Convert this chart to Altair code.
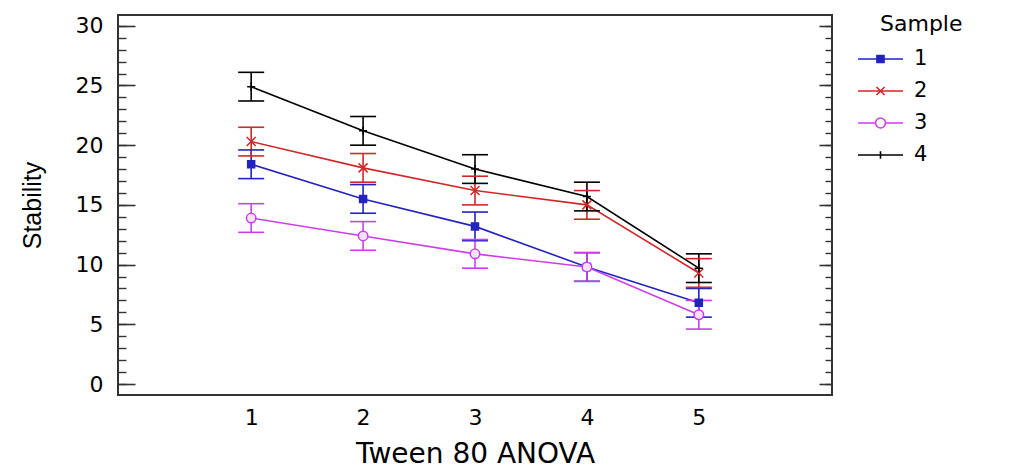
import altair as alt
import pandas as pd

# ---- data ----
levels = [1, 2, 3, 4, 5]
samples = ["1", "2", "3", "4"]
sample1 = [18.4, 15.5, 13.2, 9.8, 6.8]
sample2 = [20.3, 18.1, 16.2, 15.0, 9.3]
sample3 = [13.9, 12.4, 10.9, 9.8, 5.8]
sample4 = [24.9, 21.2, 18.0, 15.7, 9.7]
half_width = [1.2, 1.2, 1.2, 1.2]
y_major = [0, 5, 10, 15, 20, 25, 30]
y_minor = list(range(0, 31))
x_ticks = [1, 2, 3, 4, 5]

colors = ["#2323c0", "#d02828", "#cc3fe8", "#000000"]

series = [sample1, sample2, sample3, sample4]
rows = []
for s, vals, hw in zip(samples, series, half_width):
    for lv, v in zip(levels, vals):
        rows.append({"Sample": s, "Level": lv, "Mean": v, "Lo": v - hw, "Hi": v + hw})
df = pd.DataFrame(rows)

xs = alt.Scale(domain=[-0.19, 6.19], nice=False, zero=False)
ys = alt.Scale(domain=[-0.92, 30.9], nice=False, zero=False)

stroke_enc = alt.Stroke("Sample:N", scale=alt.Scale(domain=samples, range=colors), title="Sample")

TICK = "#333333"
x_axis = alt.Axis(values=x_ticks, ticks=False, domain=False, grid=False, labelPadding=12,
                  labelFont="DejaVu Sans", labelFontSize=22, labelColor="black",
                  title="Tween 80 ANOVA", titleFont="DejaVu Sans", titleFontSize=28,
                  titleFontWeight="normal", titleColor="black", titlePadding=12)
y_major_left = alt.Axis(values=y_major, orient="left", offset=-17, tickSize=17, tickWidth=1.6,
                        tickColor=TICK, domain=False, grid=False, labelPadding=15,
                        labelFont="DejaVu Sans", labelFontSize=22, labelColor="black",
                        title="Stability", titleFont="Liberation Sans",
                        titleFontSize=25, titleFontWeight="normal", titleColor="black",
                        titlePadding=30)
y_minor_left = alt.Axis(values=y_minor, orient="left", offset=-8, tickSize=8, tickWidth=1.4,
                        tickColor=TICK, domain=False, grid=False, labels=False, title=None)
y_major_right = alt.Axis(values=y_major, orient="right", offset=-13, tickSize=13, tickWidth=1.6,
                         tickColor=TICK, domain=False, grid=False, labels=False, title=None)
y_minor_right = alt.Axis(values=y_minor, orient="right", offset=-7, tickSize=7, tickWidth=1.4,
                         tickColor=TICK, domain=False, grid=False, labels=False, title=None)

base = alt.Chart(df)

def xenc(axis=None):
    return alt.X("Level:Q", scale=xs, axis=axis)

lines = base.mark_line(strokeWidth=1.6).encode(
    x=xenc(x_axis),
    y=alt.Y("Mean:Q", scale=ys, axis=y_major_left),
    stroke=stroke_enc,
)

err = base.mark_rule(strokeWidth=1.6).encode(
    x=xenc(),
    y=alt.Y("Lo:Q", scale=ys, axis=y_minor_left),
    y2="Hi:Q",
    stroke=stroke_enc,
)

caps = base.transform_fold(["Lo", "Hi"], as_=["end", "val"]).mark_point(
    shape="M-1,0H1", size=676, strokeWidth=1.6, opacity=1, filled=False
).encode(
    x=xenc(),
    y=alt.Y("val:Q", scale=ys, axis=y_major_right),
    stroke=stroke_enc,
)

marker_shapes = ["square", "M-1,-1L1,1M-1,1L1,-1", "circle", "M-1,0H1M0,-1V1"]
marker_sizes = [49, 81, 90, 64]
marker_fills = [colors[0], "transparent", "#f6e2fb", "transparent"]

point_layers = []
for i, s in enumerate(samples):
    yax = y_minor_right if i == 0 else None
    p = base.transform_filter(alt.datum.Sample == s).mark_point(
        shape=marker_shapes[i], size=marker_sizes[i], stroke=colors[i], fill=marker_fills[i],
        strokeWidth=1.5, opacity=1, filled=False,
    ).encode(
        x=xenc(),
        y=alt.Y("Mean:Q", scale=ys, axis=yax),
    )
    point_layers.append(p)

# legend symbols: line segment with the marker in its middle (unit path coordinates)
legend_paths = [
    "M-2.533,0H0.467M-1.27,-0.23H-0.8V0.23H-1.27Z",
    "M-2.533,0H0.467M-1.3,-0.27L-0.76,0.27M-1.3,0.27L-0.76,-0.27",
    "M-2.533,0H-1.363M-0.703,0H0.467M-1.363,0A0.33,0.33,0,1,0,-0.703,0A0.33,0.33,0,1,0,-1.363,0",
    "M-2.533,0H0.467M-1.033,-0.25V0.25",
]
legend_fills = [colors[0], colors[1], "#ffffff", colors[3]]

legend_layer = base.transform_filter("datum.Sample == 'none'").mark_point(
    opacity=1, strokeWidth=1.6
).encode(
    x=xenc(),
    y=alt.Y("Mean:Q", scale=ys, axis=None),
    stroke=stroke_enc,
    shape=alt.Shape("Sample:N", scale=alt.Scale(domain=samples, range=legend_paths), title="Sample"),
    fill=alt.Fill("Sample:N", scale=alt.Scale(domain=samples, range=legend_fills), title="Sample"),
)

chart = alt.layer(lines, err, caps, *point_layers, legend_layer).resolve_axis(
    y="independent", x="independent"
).properties(
    width=714, height=380,
    padding={"left": 118, "top": 15, "right": 186, "bottom": 78},
    autosize=alt.AutoSizeParams(type="none"),
    background="white",
).configure_view(
    stroke="#333333", strokeWidth=2
).configure_legend(
    orient="none", legendX=762, legendY=-1,
    titleFont="DejaVu Sans", titleFontSize=22, titleFontWeight="normal", titleColor="black",
    titlePadding=7,
    labelFont="DejaVu Sans", labelFontSize=21, labelColor="black",
    symbolSize=900, symbolStrokeWidth=1.6, rowPadding=6, labelOffset=2,
)

chart.save("out.html", embed_options={"renderer": "svg", "actions": False})
